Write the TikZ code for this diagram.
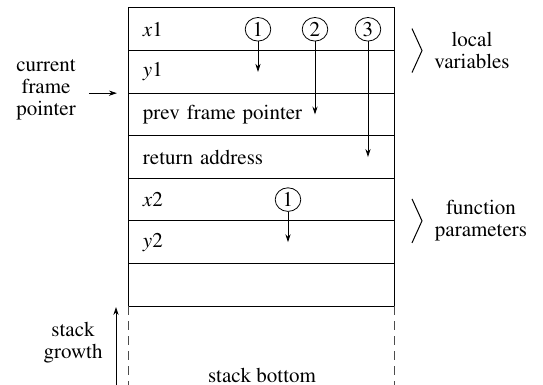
\documentclass[tikz,border=0pt]{standalone}
\usepackage[T1]{fontenc}
\usepackage{mathptmx}
\usetikzlibrary{arrows.meta}
\usetikzlibrary{positioning}
\usetikzlibrary{shapes.geometric}

\begin{document}
\begin{tikzpicture}[->,>={Stealth[length=4pt,width=2.6pt]},node distance=0pt,
  font=\fontsize{10.5}{11}\selectfont,
  slot/.style={draw,rectangle,outer sep=0pt,minimum width=133pt,minimum height=21.29pt,
    text width=119pt,inner xsep=7pt,align=left,line width=0.5pt},
  num/.style={ellipse,draw,inner sep=0pt,minimum width=12.8pt,minimum height=11.8pt,line width=0.4pt},
  note/.style={align=center}]

  \useasboundingbox (-64.5pt,4pt) rectangle (207pt,-188.5pt);

  \node[slot,anchor=north west] (x1) at (0,0) {$x1$};
  \node[slot] (y1) [below=of x1] {$y1$};
  \node[slot] (prev) [below=of y1] {prev frame pointer};
  \node[slot] (ret) [below=of prev] {return address};
  \node[slot] (x2) [below=of ret] {$x2$};
  \node[slot] (y2) [below=of x2] {$y2$};
  \node[slot] (blank) [below=of y2] {};

  \node[num] (c1) at ([xshift=64.5pt]x1.west) {1};
  \node[num] (c2) at ([xshift=93pt]x1.west) {2};
  \node[num] (c3) at ([xshift=119.5pt]x1.west) {3};
  \node[num] (c4) at ([xshift=79.5pt]x2.west) {1};

  \path[line width=0.4pt]
    (c1) edge (c1 |- y1.center)
    (c2) edge (c2 |- prev.center)
    (c3) edge (c3 |- ret.center)
    (c4) edge (c4 |- y2.center);

  % angle brackets
  \draw[-,line width=0.5pt] ([xshift=8.5pt,yshift=11pt]x1.south east)
    -- ([xshift=13.5pt]x1.south east) -- ([xshift=8.5pt,yshift=-11pt]x1.south east);
  \draw[-,line width=0.5pt] ([xshift=8.5pt,yshift=11pt]x2.south east)
    -- ([xshift=13.5pt]x2.south east) -- ([xshift=8.5pt,yshift=-11pt]x2.south east);

  \node[note] (loc) at ([xshift=38.5pt]x1.south east) {local\\variables};
  \node[note] (par) at ([xshift=43pt]x2.south east) {function\\parameters};

  \node[note] (cfp) at ([xshift=-41.5pt,yshift=1.5pt]y1.south west) {current\\frame\\pointer};
  \coordinate (cfptip) at ([xshift=-6pt]y1.south west);
  \draw[shorten <=3pt,line width=0.4pt] (cfp.east |- cfptip) -- (cfptip);

  \coordinate (floor) at (0,-188.5pt);
  \draw[-,dashed,dash pattern=on 4.5pt off 3pt,black!70,line width=0.5pt]
    (blank.south west) -- (blank.south west |- floor);
  \draw[-,dashed,dash pattern=on 4.5pt off 3pt,black!70,line width=0.5pt]
    (blank.south east) -- (blank.south east |- floor);

  \node[note] (grow) at ([xshift=-28pt,yshift=-18.5pt]blank.south west) {stack\\growth};
  \coordinate (growtip) at ([xshift=-6.5pt,yshift=-0.5pt]blank.south west);
  \draw[line width=0.4pt] (growtip |- floor) -- (growtip);

  \node[note] (bot) at ([yshift=-34.5pt]blank.south) {stack bottom};
\end{tikzpicture}
\end{document}
